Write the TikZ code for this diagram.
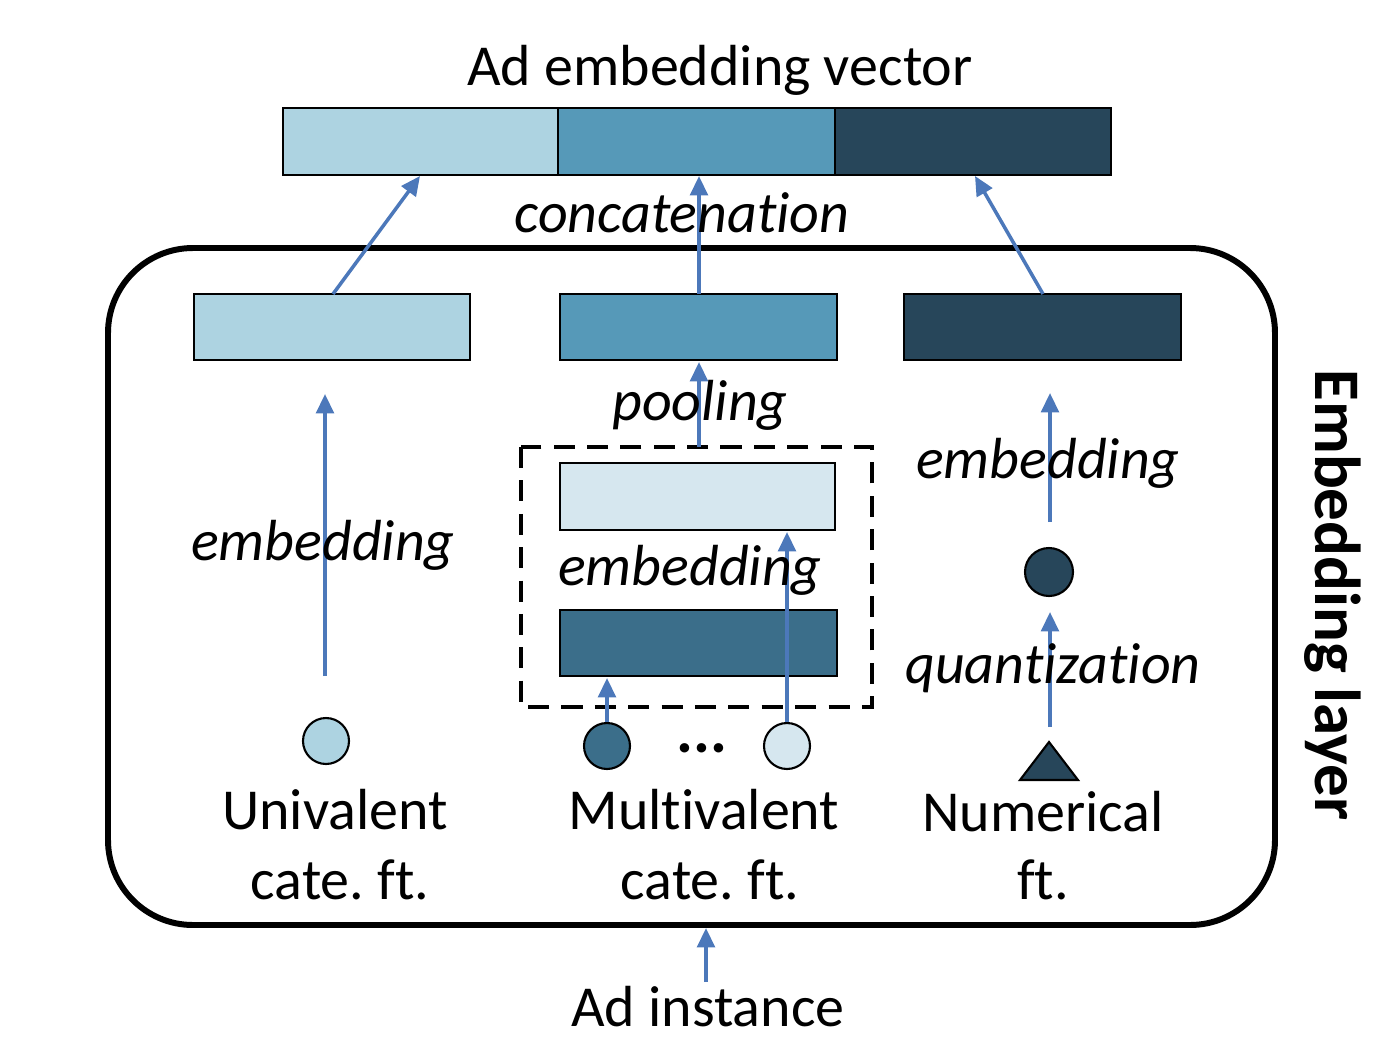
\documentclass[tikz,border=0pt]{standalone}
\usepackage{fontspec}
\setmainfont{Carlito}[Ligatures=NoCommon]
\usetikzlibrary{arrows.meta}
\definecolor{cLight}{HTML}{ADD3E1}
\definecolor{cMid}{HTML}{5699B8}
\definecolor{cDark}{HTML}{27465A}
\definecolor{cPale}{HTML}{D6E7EF}
\definecolor{cDeep}{HTML}{3B6E8A}
\definecolor{cArrow}{HTML}{4C78BA}
\frenchspacing
\begin{document}
\begin{tikzpicture}[x=0.02cm,y=-0.02cm,
  bar/.style={draw=black, line width=1.2pt, inner sep=0pt, outer sep=0pt, minimum height=1.32cm},
  dot/.style={circle, draw=black, line width=1.2pt, inner sep=0pt, outer sep=0pt, minimum size=0.92cm},
  lbl/.style={font=\fontsize{33}{40}\selectfont\frenchspacing, inner sep=0pt, align=center},
  ilbl/.style={font=\fontsize{33}{40}\selectfont\itshape, inner sep=0pt},
  arr/.style={draw=cArrow, line width=2pt, -{Triangle[width=10pt,length=11pt]}}]
\useasboundingbox (0,0) rectangle (1380,1052);
% title
\node[lbl] (title) at (720,70) {Ad embedding vector};
% top bar
\node[bar, fill=cLight, minimum width=5.5cm, minimum height=1.34cm] (ta) at (420.5,141.5) {};
\node[bar, fill=cMid, minimum width=5.54cm, minimum height=1.34cm] (tb) at (696.5,141.5) {};
\node[bar, fill=cDark, minimum width=5.52cm, minimum height=1.34cm] (tc) at (973,141.5) {};
% embedding layer frame
\draw[line width=3.4pt, rounded corners=1.7cm] (108,248) rectangle (1275,925);
\node[font=\fontsize{37}{40}\selectfont\bfseries, rotate=-90, inner sep=0pt] (layer) at (1333,595) {Embedding layer};
% middle row
\node[bar, fill=cLight, minimum width=5.52cm] (l1) at (332,327) {};
\node[bar, fill=cMid, minimum width=5.54cm] (m1) at (698.5,327) {};
\node[bar, fill=cDark, minimum width=5.54cm] (r1) at (1042.5,327) {};
% concatenation arrows
\coordinate (la) at (333,294);
\coordinate (lb) at (420,176);
\coordinate (ma) at (699,294);
\coordinate (mb) at (699,176);
\coordinate (ra) at (1043,294);
\coordinate (rb) at (975,176);
\draw[arr] (la) -- (lb);
\draw[arr] (ma) -- (mb);
\draw[arr] (ra) -- (rb);
\node[ilbl] (concat) at (682,213) {concatenation};
% left column
\node[dot, fill=cLight] (lc) at (326,741) {};
\coordinate (lcu) at (325,676);
\coordinate (l1b) at (325,394);
\draw[arr] (lcu) -- (l1b);
\node[ilbl] (lemb) at (323,545) {embedding};
\node[lbl] (univ) at (335,810) {Univalent};
\node[lbl] (univ2) at (340,880) {cate. ft.};
% middle column
\draw[line width=2pt, dash pattern=on 12pt off 7pt] (521,447) rectangle (872,707);
\node[bar, fill=cPale, minimum width=5.5cm, minimum height=1.34cm] (m2) at (697.5,496.5) {};
\node[bar, fill=cDeep, minimum width=5.54cm] (m3) at (698.5,643) {};
\coordinate (poolA) at (699,447);
\coordinate (poolB) at (699,362);
\draw[arr] (poolA) -- (poolB);
\node[ilbl] (pool) at (700,405) {pooling};
\node[dot, fill=cDeep] (mc1) at (607,746) {};
\node[dot, fill=cPale] (mc2) at (787,746) {};
\node[lbl, font=\fontsize{36}{40}\selectfont\bfseries] (dots) at (702,748) {...};
\coordinate (mc1u) at (607,722);
\coordinate (mc1b) at (607,678);
\coordinate (mc2u) at (787,722);
\coordinate (mc2b) at (787,532);
\draw[arr] (mc1u) -- (mc1b);
\draw[arr] (mc2u) -- (mc2b);
\node[ilbl] (memb) at (690,570) {embedding};
\node[lbl] (multi) at (704,810) {Multivalent};
\node[lbl] (multi2) at (710,880) {cate. ft.};
% right column
\node[dot, fill=cDark, minimum size=0.96cm] (rc) at (1049,572) {};
\coordinate (rcu) at (1050,522);
\coordinate (r1b) at (1050,393);
\draw[arr] (rcu) -- (r1b);
\node[ilbl] (remb) at (1048,463) {embedding};
\draw[line width=1.2pt, fill=cDark] (1049,742) -- (1078,780) -- (1020,780) -- cycle;
\coordinate (tri) at (1050,727);
\coordinate (rcb) at (1050,612);
\draw[arr] (tri) -- (rcb);
\node[ilbl] (quant) at (1053,668) {quantization};
\node[lbl] (num) at (1043,812) {Numerical};
\node[lbl] (num2) at (1043,880) {ft.};
% bottom
\coordinate (ia) at (706,982);
\coordinate (ib) at (706,928);
\draw[arr] (ia) -- (ib);
\node[lbl] (inst) at (708,1007) {Ad instance};
\end{tikzpicture}
\end{document}
